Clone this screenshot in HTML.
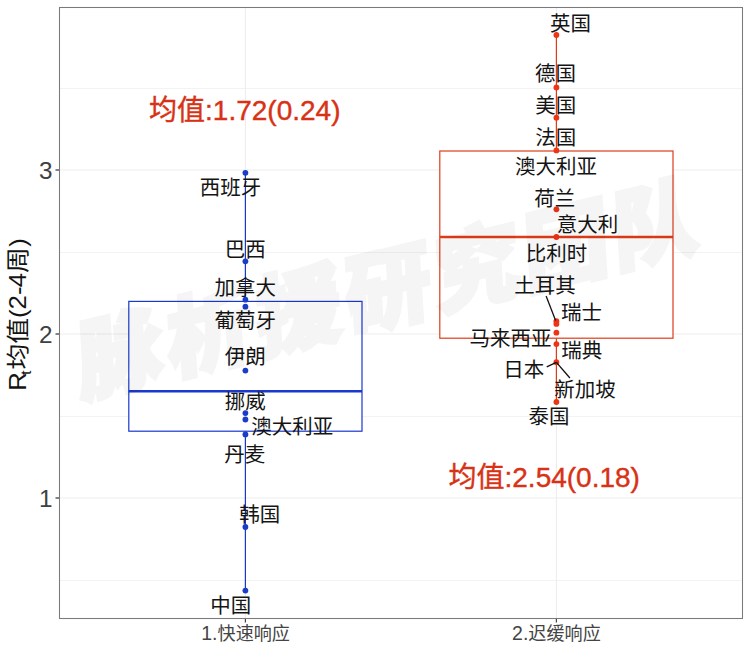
<!DOCTYPE html>
<html lang="zh"><head><meta charset="utf-8"><title>Rt均值(2-4周)</title>
<style>
html,body{margin:0;padding:0;background:#fff;font-family:"Liberation Sans",sans-serif;}
svg{display:block;}
svg text{font-family:"Liberation Sans","Noto Sans CJK SC",sans-serif;}
</style></head>
<body>
<svg width="750" height="650" viewBox="0 0 750 650">
<rect width="750" height="650" fill="#fff"/>
<line x1="59.5" x2="742.5" y1="88.5" y2="88.5" stroke="#f3f3f3" stroke-width="1.1"/>
<line x1="59.5" x2="742.5" y1="252.5" y2="252.5" stroke="#f3f3f3" stroke-width="1.1"/>
<line x1="59.5" x2="742.5" y1="416.5" y2="416.5" stroke="#f3f3f3" stroke-width="1.1"/>
<line x1="59.5" x2="742.5" y1="580.5" y2="580.5" stroke="#f3f3f3" stroke-width="1.1"/>
<line x1="59.5" x2="742.5" y1="170" y2="170" stroke="#ededed" stroke-width="1.05"/>
<line x1="59.5" x2="742.5" y1="334" y2="334" stroke="#ededed" stroke-width="1.05"/>
<line x1="59.5" x2="742.5" y1="498" y2="498" stroke="#ededed" stroke-width="1.05"/>
<line x1="245.4" x2="245.4" y1="7.5" y2="618.5" stroke="#ededed" stroke-width="1.05"/>
<line x1="556.4" x2="556.4" y1="7.5" y2="618.5" stroke="#ededed" stroke-width="1.05"/>
<line x1="55.5" x2="59.5" y1="170" y2="170" stroke="#333" stroke-width="1.2"/>
<line x1="55.5" x2="59.5" y1="334" y2="334" stroke="#333" stroke-width="1.2"/>
<line x1="55.5" x2="59.5" y1="498" y2="498" stroke="#333" stroke-width="1.2"/>
<line x1="245.4" x2="245.4" y1="618.5" y2="622.5" stroke="#444" stroke-width="1.2"/>
<line x1="556.4" x2="556.4" y1="618.5" y2="622.5" stroke="#444" stroke-width="1.2"/>
<rect x="59.5" y="7.5" width="683.0" height="611.0" fill="none" stroke="#7a7a7a" stroke-width="1.05"/>
<line x1="245.4" x2="245.4" y1="172.8" y2="301.4" stroke="#1a38cc" stroke-width="1.2"/>
<line x1="245.4" x2="245.4" y1="431.2" y2="590.6" stroke="#1a38cc" stroke-width="1.2"/>
<rect x="128.8" y="301.4" width="233.2" height="129.8" fill="#fff" stroke="#1a38cc" stroke-width="1.2"/>
<line x1="128.8" x2="362.0" y1="391.3" y2="391.3" stroke="#1a38cc" stroke-width="2.4"/>
<line x1="556.4" x2="556.4" y1="35.0" y2="151.0" stroke="#de3c18" stroke-width="1.2"/>
<line x1="556.4" x2="556.4" y1="338.2" y2="402.0" stroke="#de3c18" stroke-width="1.2"/>
<rect x="439.79999999999995" y="151.0" width="233.2" height="187.2" fill="#fff" stroke="#de3c18" stroke-width="1.2"/>
<line x1="439.79999999999995" x2="673.0" y1="237.0" y2="237.0" stroke="#de3c18" stroke-width="2.4"/>
<circle cx="245.4" cy="172.8" r="2.9" fill="#1a3cc8"/>
<circle cx="245.4" cy="261.3" r="2.9" fill="#1a3cc8"/>
<circle cx="245.4" cy="299.7" r="2.9" fill="#1a3cc8"/>
<circle cx="245.4" cy="306.7" r="2.9" fill="#1a3cc8"/>
<circle cx="245.4" cy="370.6" r="2.9" fill="#1a3cc8"/>
<circle cx="245.4" cy="413.1" r="2.9" fill="#1a3cc8"/>
<circle cx="245.4" cy="419.5" r="2.9" fill="#1a3cc8"/>
<circle cx="245.4" cy="434.4" r="2.9" fill="#1a3cc8"/>
<circle cx="245.4" cy="527.0" r="2.9" fill="#1a3cc8"/>
<circle cx="245.4" cy="590.6" r="2.9" fill="#1a3cc8"/>
<circle cx="556.4" cy="35.0" r="2.9" fill="#ee3414"/>
<circle cx="556.4" cy="87.4" r="2.9" fill="#ee3414"/>
<circle cx="556.4" cy="117.7" r="2.9" fill="#ee3414"/>
<circle cx="556.4" cy="150.4" r="2.9" fill="#ee3414"/>
<circle cx="556.4" cy="209.3" r="2.9" fill="#ee3414"/>
<circle cx="556.4" cy="237.0" r="2.9" fill="#ee3414"/>
<circle cx="556.4" cy="321.2" r="2.9" fill="#ee3414"/>
<circle cx="556.4" cy="323.9" r="2.9" fill="#ee3414"/>
<circle cx="556.4" cy="332.7" r="2.9" fill="#ee3414"/>
<circle cx="556.4" cy="344.1" r="2.9" fill="#ee3414"/>
<circle cx="556.4" cy="362.2" r="2.9" fill="#ee3414"/>
<circle cx="556.4" cy="402.0" r="2.9" fill="#ee3414"/>
<line x1="546.1" y1="296.0" x2="555.6" y2="320.4" stroke="#111" stroke-width="1.3"/>
<line x1="546.7" y1="366.8" x2="556.4" y2="362.3" stroke="#111" stroke-width="1.3"/>
<line x1="569.9" y1="378.0" x2="556.4" y2="362.3" stroke="#111" stroke-width="1.3"/>
<text x="199.75" y="195.49" font-size="20.5" fill="#141414">西班牙</text>
<text x="224.70" y="256.79" font-size="20.5" fill="#141414">巴西</text>
<text x="214.45" y="294.99" font-size="20.5" fill="#141414">加拿大</text>
<text x="214.45" y="328.29" font-size="20.5" fill="#141414">葡萄牙</text>
<text x="224.70" y="363.79" font-size="20.5" fill="#141414">伊朗</text>
<text x="224.70" y="409.29" font-size="20.5" fill="#141414">挪威</text>
<text x="251.20" y="434.29" font-size="20.5" fill="#141414">澳大利亚</text>
<text x="224.30" y="461.79" font-size="20.5" fill="#141414">丹麦</text>
<text x="239.30" y="522.19" font-size="20.5" fill="#141414">韩国</text>
<text x="210.30" y="613.49" font-size="20.5" fill="#141414">中国</text>
<text x="550.10" y="30.59" font-size="20.5" fill="#141414">英国</text>
<text x="534.90" y="81.49" font-size="20.5" fill="#141414">德国</text>
<text x="535.30" y="113.09" font-size="20.5" fill="#141414">美国</text>
<text x="535.30" y="145.49" font-size="20.5" fill="#141414">法国</text>
<text x="515.00" y="174.29" font-size="20.5" fill="#141414">澳大利亚</text>
<text x="534.30" y="205.79" font-size="20.5" fill="#141414">荷兰</text>
<text x="556.65" y="231.79" font-size="20.5" fill="#141414">意大利</text>
<text x="525.75" y="260.79" font-size="20.5" fill="#141414">比利时</text>
<text x="514.25" y="292.99" font-size="20.5" fill="#141414">土耳其</text>
<text x="561.00" y="319.79" font-size="20.5" fill="#141414">瑞士</text>
<text x="469.50" y="345.79" font-size="20.5" fill="#141414">马来西亚</text>
<text x="561.20" y="358.19" font-size="20.5" fill="#141414">瑞典</text>
<text x="503.30" y="377.09" font-size="20.5" fill="#141414">日本</text>
<text x="554.25" y="396.79" font-size="20.5" fill="#141414">新加坡</text>
<text x="528.50" y="423.79" font-size="20.5" fill="#141414">泰国</text>
<text x="149.10" y="119.60" font-size="28" fill="#d83216" stroke="#d83216" stroke-width="0.39">均值:1.72(0.24)</text>
<text x="448.50" y="487.40" font-size="28" fill="#d83216" stroke="#d83216" stroke-width="0.39">均值:2.54(0.18)</text>
<text x="39.04" y="178.80" font-size="24.3" fill="#404040">3</text>
<text x="39.04" y="342.80" font-size="24.3" fill="#404040">2</text>
<text x="39.04" y="506.80" font-size="24.3" fill="#404040">1</text>
<text x="201.28" y="639.88" font-size="18.1" fill="#444"><tspan font-size="19.5">1.</tspan>快速响应</text>
<text x="512.08" y="639.88" font-size="18.1" fill="#444"><tspan font-size="19.5">2.</tspan>迟缓响应</text>
<g transform="translate(18.0 314.0) rotate(-90) scale(1.1109 1)"><text x="-69.04" y="7.50" font-size="23.2" fill="#141414">R</text><text x="-54.96" y="13.10" font-size="14.5" fill="#141414">t</text><text x="-50.04" y="7.50" font-size="23.2" fill="#141414">均值(2</text><text x="17.05" y="7.50" font-size="23.2" fill="#141414">-</text><text x="24.05" y="7.50" font-size="23.2" fill="#141414">4周</text><text x="60.50" y="7.50" font-size="23.2" fill="#141414">)</text></g>
<g id="wm" opacity="0.036" stroke="#000" stroke-width="3.9" stroke-linejoin="miter"><text transform="rotate(-13.6 386 288) translate(386 288) skewX(-10) translate(-386 -288)" x="69.1" y="321.06" font-size="87" font-weight="900" letter-spacing="4.8" fill="#000">脉析援研究团队</text></g>
</svg>
</body></html>
